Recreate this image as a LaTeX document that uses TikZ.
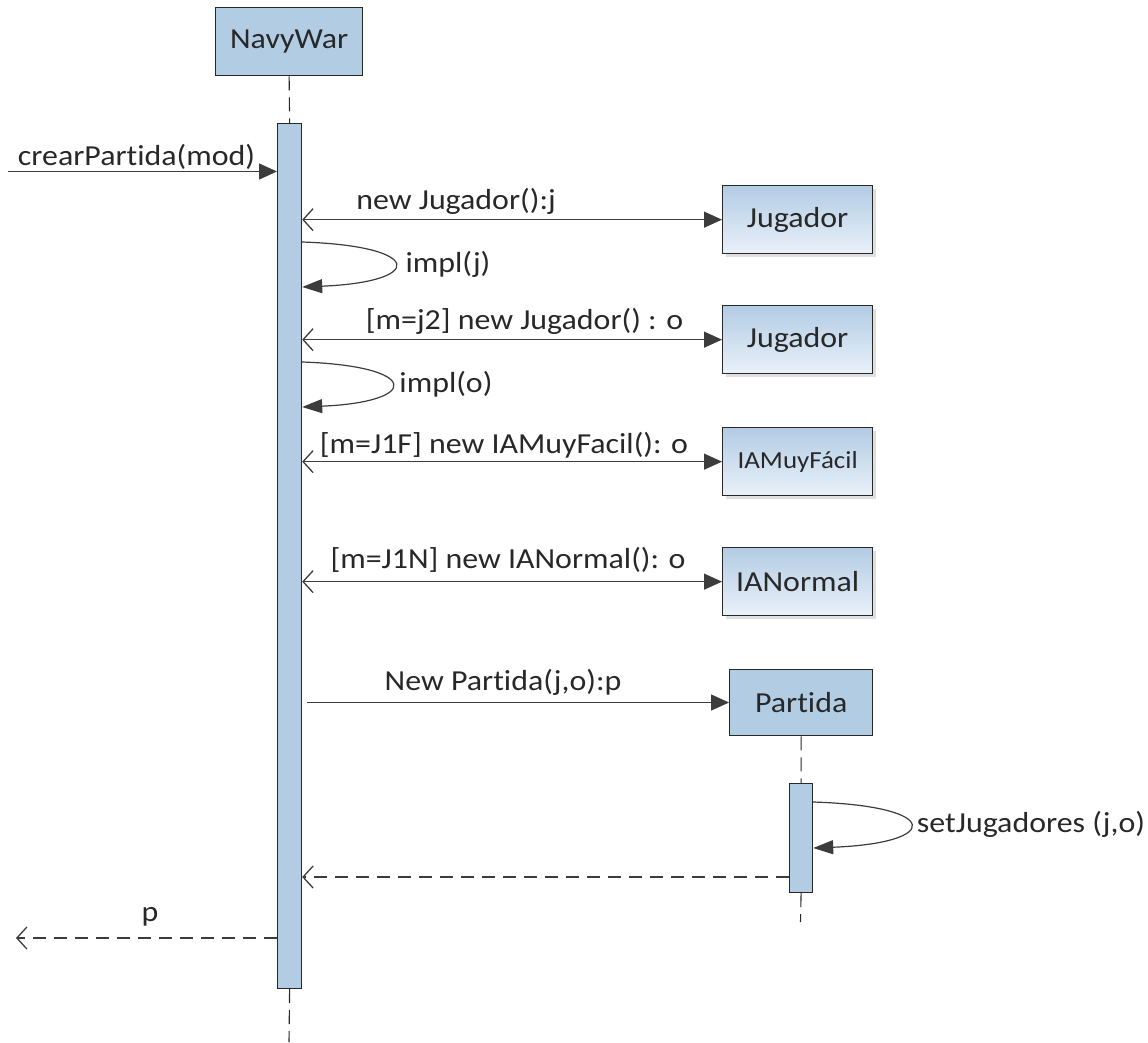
\documentclass[tikz,border=0pt]{standalone}
\usepackage{fontspec}
\setmainfont{Carlito}[FakeStretch=1.1,Ligatures=NoCommon]
\usetikzlibrary{arrows.meta,shadows}
\definecolor{boxblue}{RGB}{178,204,228}
\definecolor{boxlight}{RGB}{234,241,249}
\definecolor{ink}{RGB}{40,40,40}
\definecolor{linec}{RGB}{60,60,60}
\tikzset{
  obj/.style={draw=ink, line width=1.3pt, fill=boxblue, anchor=north west, inner sep=0pt,
              text=ink, font=\fontsize{29}{34}\selectfont},
  gobj/.style={obj, top color=boxblue, bottom color=boxlight,
               drop shadow={shadow xshift=3pt, shadow yshift=-3pt, opacity=0.25, fill=gray}},
  actbar/.style={draw=ink, line width=1.2pt, fill=boxblue, anchor=north west, inner sep=0pt},
  lifeline/.style={draw=ink, line width=1.1pt, dash pattern=on 14pt off 7pt},
  lbl/.style={text=ink, font=\fontsize{29}{34}\selectfont, anchor=base, inner sep=0pt},
  fhead/.tip={Triangle[length=18pt,width=16pt]},
  ohead/.tip={Straight Barb[length=10pt,width=22pt]},
  call/.style={draw=linec, line width=1.3pt, -fhead},
  create/.style={draw=linec, line width=1.3pt, ohead-fhead},
  selfcall/.style={draw=linec, line width=1.2pt, -{Triangle[length=20pt,width=14pt]}},
  reply/.style={draw=linec, line width=1.3pt, dash pattern=on 13pt off 8pt, -ohead},
}
\begin{document}
\begin{tikzpicture}[x=1pt,y=-1pt]
\useasboundingbox (0,0) rectangle (1148,1042);

% objects
\node[obj, minimum width=147pt, minimum height=68pt] (navy) at (215,7) {NavyWar};
\node[actbar, minimum width=24pt, minimum height=865pt] (act) at (277,123) {};
\coordinate (navyend) at (289,1042);
\draw[lifeline] (navy.south) -- (act.north);
\draw[lifeline] (act.south) -- (navyend);

\node[gobj, minimum width=150pt, minimum height=68pt] (jug1) at (722,185) {Jugador};
\node[gobj, minimum width=150pt, minimum height=68pt] (jug2) at (722,305) {Jugador};
\node[gobj, minimum width=150pt, minimum height=68pt, font=\fontsize{24.5}{30}\selectfont] (iamf) at (722,427) {IAMuyFácil};
\node[gobj, minimum width=150pt, minimum height=68pt] (ian) at (722,547) {IANormal};
\node[obj, minimum width=143pt, minimum height=66pt] (part) at (729,669) {Partida};
\node[actbar, minimum width=23pt, minimum height=109pt] (pact) at (789,783) {};
\coordinate (partend) at (800.5,922);
\draw[lifeline] (part.south) -- (pact.north);
\draw[lifeline] (pact.south) -- (partend);

% crearPartida
\coordinate (cpin) at (8,171.5);
\draw[call] (cpin) -- (cpin -| act.west);
\node[lbl] (lcp) at (136.5,165) {crearPartida(mod)};

% new Jugador():j
\draw[create] (jug1.west -| act.east) -- (jug1.west);
\node[lbl] (l1) at (456,209) {new Jugador():j};

% impl(j)
\coordinate (s1a) at (act.east |- 0,242);
\coordinate (s1b) at (act.east |- 0,287);
\draw[selfcall] (s1a) .. controls (425,246) and (425,282) .. (s1b);
\node[lbl] (ls1) at (448,272) {impl(j)};

% [m=j2]
\draw[create] (jug2.west -| act.east) -- (jug2.west);
\node[lbl] (l2) at (524.5,329) {[m=j2] new Jugador() : o};

% impl(o)
\coordinate (s2a) at (act.east |- 0,362);
\coordinate (s2b) at (act.east |- 0,407);
\draw[selfcall] (s2a) .. controls (421,366) and (421,402) .. (s2b);
\node[lbl] (ls2) at (446,392) {impl(o)};

% [m=J1F]
\draw[create] (iamf.west -| act.east) -- (iamf.west);
\node[lbl] (l3) at (504,453) {[m=J1F] new IAMuyFacil(): o};

% [m=J1N]
\draw[create] (ian.west -| act.east) -- (ian.west);
\node[lbl] (l4) at (508,568) {[m=J1N] new IANormal(): o};

% New Partida
\coordinate (npstart) at (307,702.5);
\draw[call] (npstart) -- (npstart -| part.west);
\node[lbl] (l5) at (503,690) {New Partida(j,o):p};

% setJugadores
\coordinate (s3a) at (pact.east |- 0,802);
\coordinate (s3b) at (pact.east |- 0,848);
\draw[selfcall] (s3a) .. controls (942,806) and (942,843) .. (s3b);
\node[lbl] (ls3) at (1031,832) {setJugadores (j,o)};

% return to NavyWar
\coordinate (r1) at (pact.west |- 0,877);
\draw[reply] (r1) -- (r1 -| act.east);

% return p
\coordinate (r2a) at (act.west |- 0,938);
\coordinate (r2b) at (16,938);
\draw[reply] (r2a) -- (r2b);
\node[lbl] (lp) at (150,921) {p};
\end{tikzpicture}
\end{document}
